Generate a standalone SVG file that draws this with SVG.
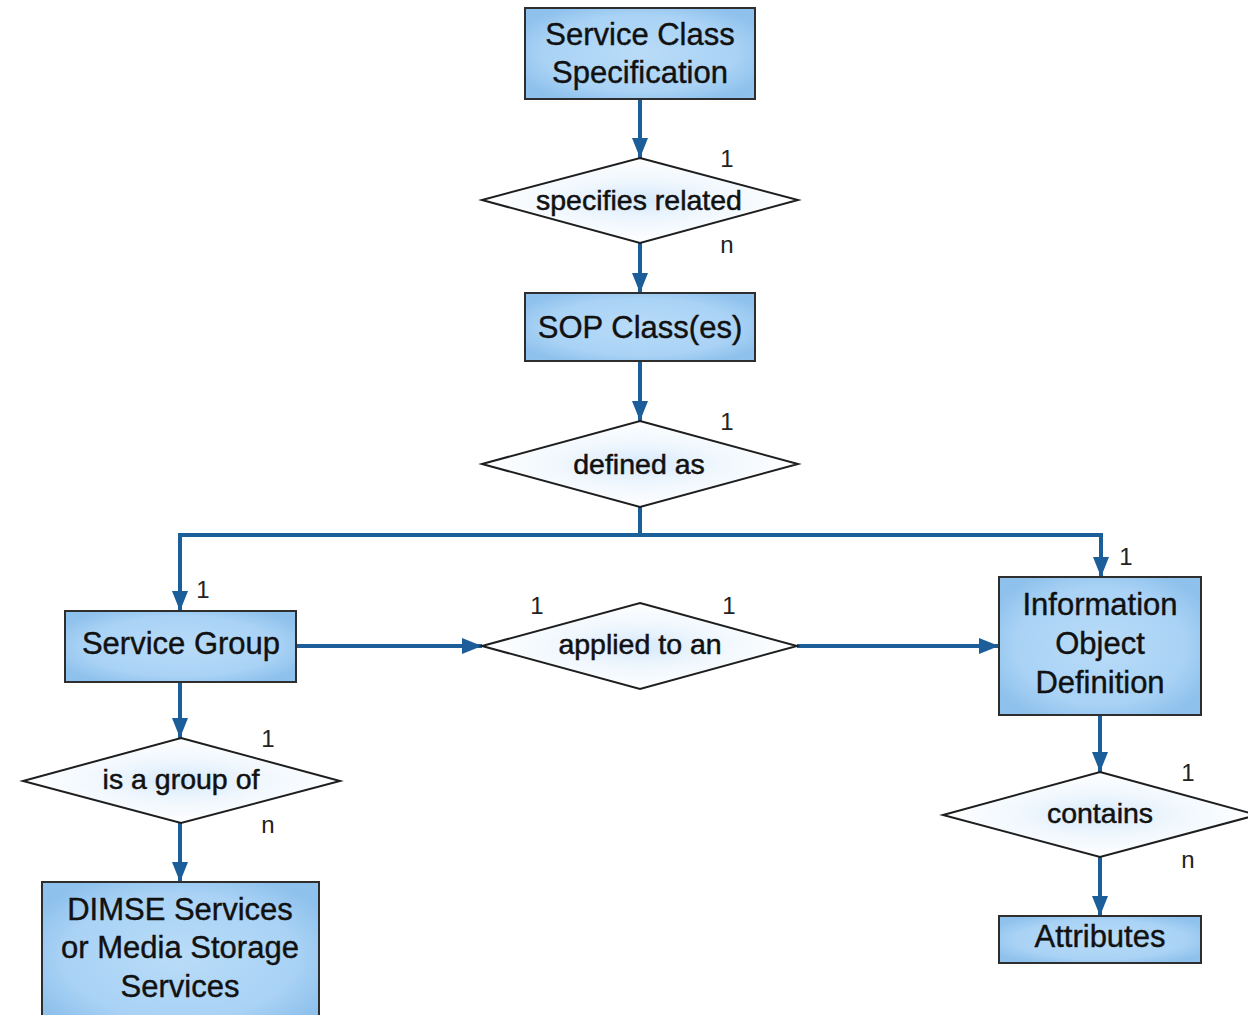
<svg xmlns="http://www.w3.org/2000/svg" width="1248" height="1015" viewBox="0 0 1248 1015">
<defs>
<radialGradient id="boxg" cx="50%" cy="50%" r="60%">
<stop offset="0" stop-color="#b9dcf8"/>
<stop offset="0.7" stop-color="#a9d2f5"/>
<stop offset="1" stop-color="#8ec1ec"/>
</radialGradient>
<radialGradient id="diag" cx="50%" cy="50%" r="50%">
<stop offset="0" stop-color="#d6e9fb"/>
<stop offset="0.45" stop-color="#eef6fd"/>
<stop offset="1" stop-color="#ffffff"/>
</radialGradient>
<marker id="ah" markerUnits="userSpaceOnUse" markerWidth="22" markerHeight="16" refX="20" refY="8" orient="auto">
<path d="M0,0 L20,8 L0,16 z" fill="#1b5e9a"/>
</marker>
</defs>
<style>
.box{fill:url(#boxg);stroke:#2e2e2e;stroke-width:2}
.dia{fill:url(#diag);stroke:#1e1e1e;stroke-width:2}
.bt{font-family:"Liberation Sans",Arial,sans-serif;font-size:31px;fill:#111;stroke:#111;stroke-width:0.4;text-anchor:middle}
.dt{font-family:"Liberation Sans",Arial,sans-serif;font-size:28.5px;fill:#111;stroke:#111;stroke-width:0.5;text-anchor:middle}
.card{font-family:"Liberation Sans",Arial,sans-serif;font-size:24px;fill:#222;text-anchor:middle}
.con{fill:none;stroke:#1b5e9a;stroke-width:4}
.arr{marker-end:url(#ah)}
</style>
<rect width="1248" height="1015" fill="#ffffff"/>

<g id="connectors">
<line class="con arr" x1="640" y1="99" x2="640" y2="158"/>
<line class="con arr" x1="640" y1="243" x2="640" y2="293"/>
<line class="con arr" x1="640" y1="361" x2="640" y2="421"/>
<polyline class="con" points="640,507 640,535"/>
<line class="con" x1="178" y1="535" x2="1103" y2="535"/>
<polyline class="con arr" points="180,533 180,611"/>
<polyline class="con arr" points="1101,533 1101,577"/>
<line class="con arr" x1="296" y1="646" x2="482" y2="646"/>
<line class="con arr" x1="797" y1="646" x2="999" y2="646"/>
<line class="con arr" x1="180" y1="682" x2="180" y2="738"/>
<line class="con arr" x1="180" y1="823" x2="180" y2="882"/>
<line class="con arr" x1="1100" y1="715" x2="1100" y2="772"/>
<line class="con arr" x1="1100" y1="857" x2="1100" y2="916"/>
</g>

<g id="n-service-class-spec">
<rect class="box" x="525" y="8" width="230" height="91"/>
<text class="bt" x="640" y="45">Service Class</text>
<text class="bt" x="640" y="83">Specification</text>
</g>

<g id="r-specifies-related">
<polygon class="dia" points="640,158 798,200 640,243 482,200"/>
<text class="dt" x="639" y="210">specifies related</text>
<text class="card" x="727" y="167">1</text>
<text class="card" x="727" y="253">n</text>
</g>

<g id="n-sop-classes">
<rect class="box" x="525" y="293" width="230" height="68"/>
<text class="bt" x="640" y="338">SOP Class(es)</text>
</g>

<g id="r-defined-as">
<polygon class="dia" points="640,421 798,464 640,507 482,464"/>
<text class="dt" x="639" y="474">defined as</text>
<text class="card" x="727" y="430">1</text>
</g>

<g id="n-service-group">
<rect class="box" x="65" y="611" width="231" height="71"/>
<text class="bt" x="181" y="654">Service Group</text>
<text class="card" x="203" y="598">1</text>
</g>

<g id="r-applied-to-an">
<polygon class="dia" points="640,603 797,646 640,689 482,646"/>
<text class="dt" x="640" y="654">applied to an</text>
<text class="card" x="537" y="614">1</text>
<text class="card" x="729" y="614">1</text>
</g>

<g id="n-iod">
<rect class="box" x="999" y="577" width="202" height="138"/>
<text class="bt" x="1100" y="615">Information</text>
<text class="bt" x="1100" y="654">Object</text>
<text class="bt" x="1100" y="693">Definition</text>
<text class="card" x="1126" y="565">1</text>
</g>

<g id="r-is-a-group-of">
<polygon class="dia" points="181,738 340,781 181,823 23,781"/>
<text class="dt" x="181" y="789">is a group of</text>
<text class="card" x="268" y="747">1</text>
<text class="card" x="268" y="833">n</text>
</g>

<g id="n-dimse">
<rect class="box" x="42" y="882" width="277" height="150"/>
<text class="bt" x="180" y="920">DIMSE Services</text>
<text class="bt" x="180" y="958">or Media Storage</text>
<text class="bt" x="180" y="997">Services</text>
</g>

<g id="r-contains">
<polygon class="dia" points="1100,772 1257,815 1100,857 943,815"/>
<text class="dt" x="1100" y="823">contains</text>
<text class="card" x="1188" y="781">1</text>
<text class="card" x="1188" y="868">n</text>
</g>

<g id="n-attributes">
<rect class="box" x="999" y="916" width="202" height="47"/>
<text class="bt" x="1100" y="947">Attributes</text>
</g>
</svg>
